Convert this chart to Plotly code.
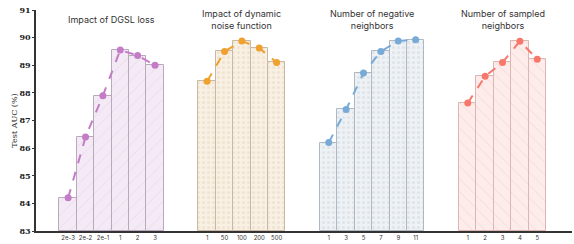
import plotly.graph_objects as go

# ---- data ----
titles = ["Impact of DGSL loss", "Impact of dynamic<br>noise function",
          "Number of negative<br>neighbors", "Number of sampled<br>neighbors"]
labels_dgsl = ["2e-3", "2e-2", "2e-1", "1", "2", "3"]
values_dgsl = [84.2, 86.4, 87.9, 89.55, 89.35, 89.0]
labels_noise = ["1", "50", "100", "200", "500"]
values_noise = [88.42, 89.5, 89.88, 89.62, 89.1]
labels_neg = ["1", "3", "5", "7", "9", "11"]
values_neg = [86.2, 87.4, 88.72, 89.5, 89.88, 89.92]
labels_samp = ["1", "2", "3", "4", "5"]
values_samp = [87.63, 88.6, 89.1, 89.87, 89.22]
y_ticks = [83, 84, 85, 86, 87, 88, 89, 90, 91]

groups = [
    (labels_dgsl, values_dgsl, 0),
    (labels_noise, values_noise, 8),
    (labels_neg, values_neg, 15),
    (labels_samp, values_samp, 23),
]
styles = [
    dict(line="#c47cc6", fill="rgba(244,234,246,1)", hatch="/", hcol="#c2b2c6", edge="#b9a9bc", size=9, sol=0.06),
    dict(line="#f0a02c", fill="rgba(249,240,228,1)", hatch=".", hcol="#e6d6c0", edge="#c9b9a4", size=5, sol=0.3),
    dict(line="#78aad8", fill="rgba(238,242,245,1)", hatch=".", hcol="#cdd6de", edge="#aeb8c2", size=5, sol=0.3),
    dict(line="#f7786a", fill="rgba(253,236,234,1)", hatch="\\", hcol="#d0b0ad", edge="#dcb6b2", size=9, sol=0.06),
]

fig = go.Figure()
tickvals, ticktext = [], []
for (labs, vals, start), st, title in zip(groups, styles, titles):
    xs = [start + i for i in range(len(labs))]
    tickvals += xs
    ticktext += labs
    fig.add_trace(go.Bar(
        x=xs, y=[v - 83 for v in vals], base=83, width=1.0,
        marker=dict(color=st["fill"], line=dict(color=st["edge"], width=1),
                    pattern=dict(shape=st["hatch"], fgcolor=st["hcol"], size=st["size"],
                                 solidity=st["sol"], fillmode="overlay")),
        showlegend=False, hoverinfo="skip"))
    fig.add_trace(go.Scatter(
        x=xs, y=vals, mode="lines+markers",
        line=dict(color=st["line"], width=2, dash="dash"),
        marker=dict(color=st["line"], size=7),
        showlegend=False))
    fig.add_annotation(x=(xs[0] + xs[-1]) / 2, y=90.67, text=title, showarrow=False,
                       xref="x", yref="y", yanchor="middle",
                       font=dict(family="Inter, Roboto, sans-serif", size=9, color="#333333"))

fig.update_layout(
    width=574, height=244,
    margin=dict(l=36, r=2, t=10, b=13, autoexpand=False),
    paper_bgcolor="white", plot_bgcolor="white",
    bargap=0,
    xaxis=dict(range=[-1.85, 29.0], tickvals=tickvals, ticktext=ticktext, tickangle=0,
               showgrid=False, zeroline=False, showline=True, linecolor="#333333",
               linewidth=1.5, ticks="", automargin=False,
               tickfont=dict(family="Inter, Roboto, sans-serif", size=6, color="#333333")),
    yaxis=dict(range=[83, 91], tickvals=y_ticks, showgrid=False, zeroline=False,
               showline=True, linecolor="#333333", linewidth=1.5, ticks="outside", ticklen=2,
               tickcolor="#333333", automargin=False,
               tickfont=dict(family="DejaVu Serif, serif", size=8, color="#222222", weight="bold"),
               title=dict(text="Test AUC (%)", standoff=1,
                          font=dict(family="DejaVu Serif, serif", size=8, color="#222222"))),
)

fig.write_html("out.html", config={"displayModeBar": False},
               post_script="document.body.style.margin='0px';")
